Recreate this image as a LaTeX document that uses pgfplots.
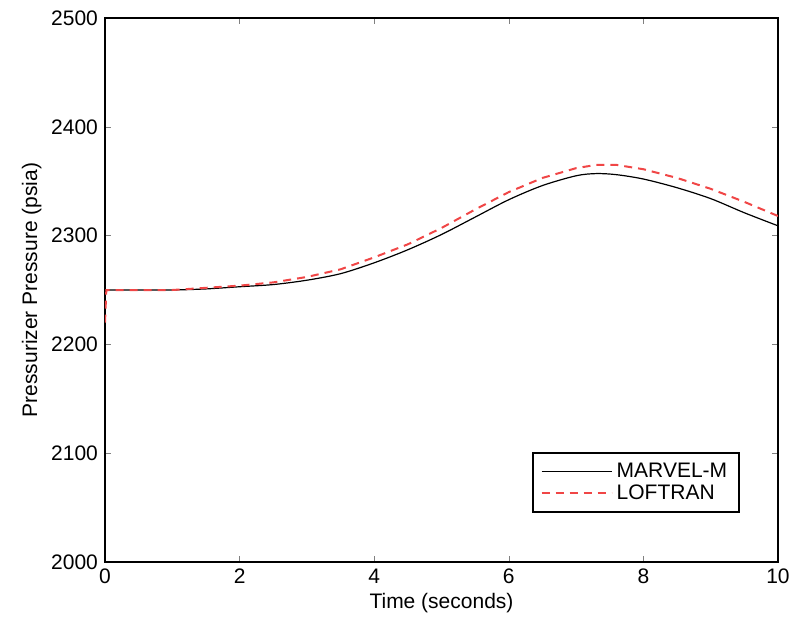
\documentclass[border=0pt]{standalone}
\usepackage{pgfplots}
\pgfplotsset{compat=1.18}
\usepackage{fontspec}
\setmainfont{Liberation Sans}
\definecolor{lred}{RGB}{240,70,70}
\begin{document}
\begin{tikzpicture}
\useasboundingbox (-52.5pt,-33pt) rectangle (342pt,281pt);
\begin{axis}[
  scale only axis,
  width=336.5pt, height=272pt,
  xmin=0, xmax=10, ymin=2000, ymax=2500,
  xtick={0,2,...,10}, ytick={2000,2100,...,2500},
  tick align=inside,
  major tick length=3pt,
  axis line style={line width=0.8pt},
  /pgf/number format/assume math mode=true,
  /pgf/number format/1000 sep={},
  tick label style={font=\fontsize{10.5}{12}\selectfont},
  label style={font=\fontsize{10.5}{12}\selectfont},
  xlabel={Time (seconds)},
  ylabel={Pressurizer Pressure (psia)},
  xlabel style={yshift=2pt},
  ylabel style={yshift=-2pt},
  legend style={at={(1,0)}, anchor=south east, xshift=-19pt, yshift=24.5pt,
    font=\fontsize{10.5}{11}\selectfont, draw=black, line width=0.8pt,
    inner xsep=4pt, inner ysep=3pt, row sep=-2pt},
  legend cell align=left,
  legend image code/.code={\draw[#1] (0pt,0pt) -- (35pt,0pt);},
]
\addplot[black, line width=0.6pt, smooth] coordinates {
(0,2250) (0.5,2250) (1,2250) (1.5,2251) (2,2253) (2.5,2255) (3,2259) (3.5,2265) (4,2275)
(4.5,2287) (5,2301) (5.5,2317) (6,2333) (6.5,2346) (7,2355) (7.3,2357) (7.6,2356)
(8,2352) (8.5,2344) (9,2334) (9.5,2321) (10,2309)
};
\addlegendentry{MARVEL-M}
\addplot[lred, line width=1pt, dash pattern=on 4pt off 3pt] coordinates {
(0,2220) (0.02,2250) (0.5,2250) (1,2250) (1.5,2252) (2,2254) (2.5,2257) (3,2262) (3.5,2269) (4,2280)
(4.5,2292) (5,2307) (5.5,2324) (6,2340) (6.5,2353) (7,2362) (7.3,2365) (7.6,2365)
(8,2361) (8.5,2353) (9,2343) (9.5,2331) (10,2318)
};
\addlegendentry{LOFTRAN}
\end{axis}
\end{tikzpicture}
\end{document}
